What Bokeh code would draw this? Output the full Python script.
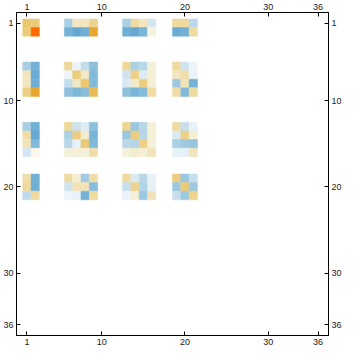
from bokeh.plotting import figure
from bokeh.models import Range1d, LinearAxis, FixedTicker, ColumnDataSource
from bokeh.embed import file_html
from bokeh.resources import INLINE

# ---- data -------------------------------------------------------------
tick_values = [1, 10, 20, 30, 36]
matrix_size = 36
row_groups = [[1, 2], [6, 7, 8, 9], [13, 14, 15, 16], [19, 20, 21]]
col_groups = [[1, 2], [6, 7, 8, 9], [13, 14, 15, 16], [19, 20, 21]]

b11 = [[0.50, 0.48], [0.46, 1.00]]
b12 = [[-0.40, 0.20, 0.20, 0.38], [-0.60, -0.70, -0.63, 0.70]]
b13 = [[-0.40, 0.30, 0.20, -0.18], [-0.62, -0.68, -0.58, 0.08]]
b14 = [[0.30, 0.32, -0.30], [-0.66, -0.62, 0.30]]

b21 = [[-0.40, -0.60], [0.20, -0.66], [0.20, -0.64], [0.42, 0.70]]
b22 = [[0.33, -0.05, -0.25, -0.50], [-0.05, 0.45, 0.18, -0.55],
       [-0.25, 0.18, 0.50, -0.55], [-0.50, -0.56, -0.52, 0.58]]
b23 = [[0.33, -0.38, -0.32, 0.10], [-0.20, 0.42, -0.14, 0.12],
       [-0.16, 0.16, 0.45, 0.11], [-0.50, -0.58, -0.54, 0.28]]
b24 = [[0.32, -0.20, -0.05], [0.20, 0.27, -0.07],
       [-0.44, 0.22, -0.60], [0.28, -0.55, 0.30]]

b31 = [[-0.40, -0.62], [0.28, -0.68], [0.22, -0.55], [-0.18, 0.06]]
b32 = [[0.33, -0.22, -0.14, -0.50], [-0.38, 0.44, 0.14, -0.58],
       [-0.32, -0.10, 0.48, -0.55], [0.10, 0.12, 0.10, 0.27]]
b33 = [[0.37, -0.45, -0.32, 0.10], [-0.45, 0.44, -0.32, 0.12],
       [-0.31, -0.34, 0.42, 0.10], [0.10, 0.15, 0.11, 0.22]]
b34 = [[0.30, -0.24, -0.08], [-0.16, 0.40, 0.12],
       [-0.40, -0.44, -0.47], [-0.10, -0.10, 0.22]]

b41 = [[0.27, -0.62], [0.32, -0.62], [-0.27, 0.30]]
b42 = [[0.30, 0.13, -0.42, 0.27], [-0.20, 0.24, 0.22, -0.52],
       [-0.05, -0.08, -0.60, 0.30]]
b43 = [[0.30, -0.16, -0.32, -0.08], [-0.24, 0.38, -0.35, -0.10],
       [-0.07, 0.12, -0.45, 0.22]]
b44 = [[0.44, -0.45, -0.24], [-0.45, 0.47, -0.44], [-0.24, -0.44, 0.38]]

blocks = [[b11, b12, b13, b14],
          [b21, b22, b23, b24],
          [b31, b32, b33, b34],
          [b41, b42, b43, b44]]

# ---- colour function (blue - white - orange) ---------------------------
neg_stops = [(0.0, "#ffffff"), (0.05, "#eef5fa"), (0.15, "#dcebf4"),
             (0.25, "#c4ddec"), (0.40, "#a8cfe3"), (0.50, "#8ec0dc"),
             (0.60, "#74b2d6"), (0.70, "#62a6d1"), (1.00, "#3a80c0")]
pos_stops = [(0.0, "#ffffff"), (0.10, "#f4f1da"), (0.20, "#f2e6c0"),
             (0.30, "#efdba0"), (0.40, "#edd18a"), (0.50, "#ebc870"),
             (0.70, "#e6a630"), (1.00, "#ff6a00")]


def _hex(c):
    return tuple(int(c[i:i + 2], 16) for i in (1, 3, 5))


def colour(v):
    stops = pos_stops if v >= 0 else neg_stops
    a = min(abs(v), 1.0)
    for (t0, c0), (t1, c1) in zip(stops[:-1], stops[1:]):
        if a <= t1:
            f = (a - t0) / (t1 - t0) if t1 > t0 else 0
            r0, r1 = _hex(c0), _hex(c1)
            rgb = [round(x0 + (x1 - x0) * f) for x0, x1 in zip(r0, r1)]
            return "#%02x%02x%02x" % tuple(rgb)
    return stops[-1][1]


xs, ys, vals, cols = [], [], [], []
for gi, rows in enumerate(row_groups):
    for gj, cs in enumerate(col_groups):
        blk = blocks[gi][gj]
        for ri, r in enumerate(rows):
            for ci, c in enumerate(cs):
                v = blk[ri][ci]
                xs.append(c)
                ys.append(r)
                vals.append(v)
                cols.append(colour(v))

src = ColumnDataSource(dict(x=xs, y=ys, v=vals, color=cols))

# ---- figure ------------------------------------------------------------
pad = 0.75
p = figure(width=344, height=347, output_backend="svg", toolbar_location=None,
           x_range=Range1d(0.5 - pad, matrix_size + 0.5 + pad),
           y_range=Range1d(matrix_size + 0.5 + pad, 0.5 - pad),
           x_axis_location="below", y_axis_location="left",
           min_border_left=0, min_border_right=0,
           min_border_top=0, min_border_bottom=0)
p.grid.visible = False
p.outline_line_color = "black"
p.background_fill_color = "white"
p.border_fill_color = "white"

p.rect(x="x", y="y", width=1, height=1, source=src,
       fill_color="color", line_color="color", line_width=0.5)

p.add_layout(LinearAxis(), "above")
p.add_layout(LinearAxis(), "right")

for ax in p.axis:
    ax.ticker = FixedTicker(ticks=tick_values)
    ax.minor_tick_line_color = None
    ax.major_tick_in = 4
    ax.major_tick_out = 0
    ax.major_tick_line_color = "black"
    ax.axis_line_color = "black"
    ax.major_label_text_font = "Liberation Sans"
    ax.major_label_text_font_size = "9px"
    ax.major_label_text_color = "#222222"
    ax.major_label_standoff = 3

open("out.html", "w").write(file_html(p, INLINE))
